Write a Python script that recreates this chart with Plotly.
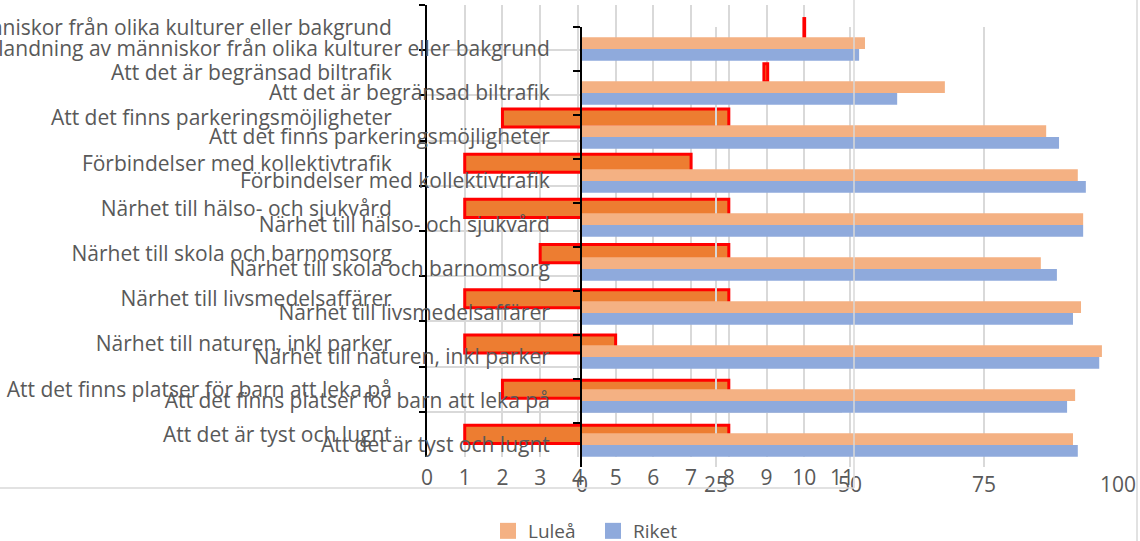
import plotly.graph_objects as go

# ---- data (top to bottom) ----
categories = [
    "Blandning av människor från olika kulturer eller bakgrund",
    "Att det är begränsad biltrafik",
    "Att det finns parkeringsmöjligheter",
    "Förbindelser med kollektivtrafik",
    "Närhet till hälso- och sjukvård",
    "Närhet till skola och barnomsorg",
    "Närhet till livsmedelsaffärer",
    "Närhet till naturen, inkl parker",
    "Att det finns platser för barn att leka på",
    "Att det är tyst och lugnt",
]
# back chart (0-11 scale): floating bars start -> end
range_start = [9.99, 8.93, 2, 1, 1, 3, 1, 1, 2, 1]
range_end = [10.01, 9.03, 8, 7, 8, 8, 8, 5, 8, 8]
# front chart (0-100 scale)
lulea = [52.8, 67.7, 86.6, 92.5, 93.5, 85.6, 93.1, 97.0, 92.0, 91.6]
riket = [51.7, 58.8, 89.0, 94.0, 93.5, 88.6, 91.6, 96.5, 90.5, 92.5]
ticks_a = list(range(0, 12))
ticks_b = [0, 25, 50, 75, 100]

W, H = 1140, 550
REF_H = 541
FONT = "Open Sans"
TXT = "#595959"
GRID = "#D9D9D9"
FS = 21

def px_x(p):
    return p / W

def px_y(p):
    return 1 - p / REF_H

fig = go.Figure()

fig.add_trace(go.Bar(
    y=categories, x=[e - s for s, e in zip(range_start, range_end)], base=range_start,
    orientation="h", width=0.4,
    marker=dict(color="#ED7D31", line=dict(color="#FF0000", width=3)),
    xaxis="x", yaxis="y", showlegend=False, hoverinfo="skip",
))
fig.add_trace(go.Bar(
    y=categories, x=lulea, orientation="h", name="Luleå",
    marker=dict(color="#F4B183"), xaxis="x2", yaxis="y2", showlegend=False,
))
fig.add_trace(go.Bar(
    y=categories, x=riket, orientation="h", name="Riket",
    marker=dict(color="#8FAADC"), xaxis="x2", yaxis="y2", showlegend=False,
))
# legend entries
for nm, col in [("Luleå", "#F4B183"), ("Riket", "#8FAADC")]:
    fig.add_trace(go.Scatter(
        x=[None], y=[None], mode="markers", name=nm,
        marker=dict(symbol="square", size=18, color=col),
        xaxis="x2", yaxis="y2",
    ))

tickfont = dict(family=FONT, size=FS, color=TXT)

fig.update_layout(
    template="none",
    width=W, height=H, autosize=False,
    margin=dict(l=0, r=0, t=0, b=0, pad=0),
    paper_bgcolor="white", plot_bgcolor="rgba(0,0,0,0)",
    barmode="group", bargap=0.47,
    font=dict(family=FONT, size=FS, color=TXT),
    xaxis=dict(
        domain=[px_x(427), px_x(842)], range=[0, 11], automargin=False,
        tickvals=ticks_a, showgrid=True, gridcolor=GRID, gridwidth=2,
        zeroline=False, showline=False, ticks="", tickfont=tickfont,
        anchor="y", ticklabelstandoff=6,
    ),
    yaxis=dict(
        domain=[px_y(457), px_y(5)], autorange="reversed", automargin=False,
        showgrid=True, gridcolor=GRID, gridwidth=2, tickson="boundaries",
        showline=True, linecolor="black", linewidth=2,
        ticks="outside", ticklen=6, tickwidth=2, tickcolor="black",
        tickfont=tickfont, anchor="x", ticklabelstandoff=29,
    ),
    xaxis2=dict(
        domain=[px_x(582), px_x(1118)], range=[0, 100], automargin=False,
        tickvals=ticks_b, showgrid=True, gridcolor=GRID, gridwidth=2,
        zeroline=False, showline=False, ticks="", tickfont=tickfont,
        anchor="y2", ticklabelstandoff=3,
    ),
    yaxis2=dict(
        domain=[px_y(467), px_y(27)], autorange="reversed", automargin=False,
        showgrid=False, tickson="boundaries",
        showline=True, linecolor="black", linewidth=2,
        ticks="outside", ticklen=7, tickwidth=2, tickcolor="black",
        tickfont=tickfont, anchor="x2", ticklabelstandoff=26,
    ),
    legend=dict(
        orientation="h", x=px_x(488), y=px_y(531), xanchor="left", yanchor="middle",
        font=dict(family=FONT, size=19, color=TXT), bgcolor="rgba(0,0,0,0)",
        itemwidth=30, tracegroupgap=0, entrywidth=60, entrywidthmode="pixels",
    ),
    shapes=[
        dict(type="line", xref="paper", yref="paper", x0=0, x1=px_x(854),
             y0=px_y(488), y1=px_y(488), line=dict(color=GRID, width=1.5)),
        dict(type="line", xref="paper", yref="paper", x0=px_x(854), x1=px_x(854),
             y0=px_y(488), y1=1, line=dict(color=GRID, width=1.5)),
        dict(type="line", xref="paper", yref="paper", x0=px_x(1137), x1=px_x(1137),
             y0=0, y1=1, line=dict(color=GRID, width=1.5)),
    ],
)

fig.write_html(
    "out.html",
    config={"responsive": False, "displayModeBar": False},
    default_width="1140px", default_height="550px",
    post_script="document.body.style.margin='0px';document.body.style.overflow='hidden';",
)
